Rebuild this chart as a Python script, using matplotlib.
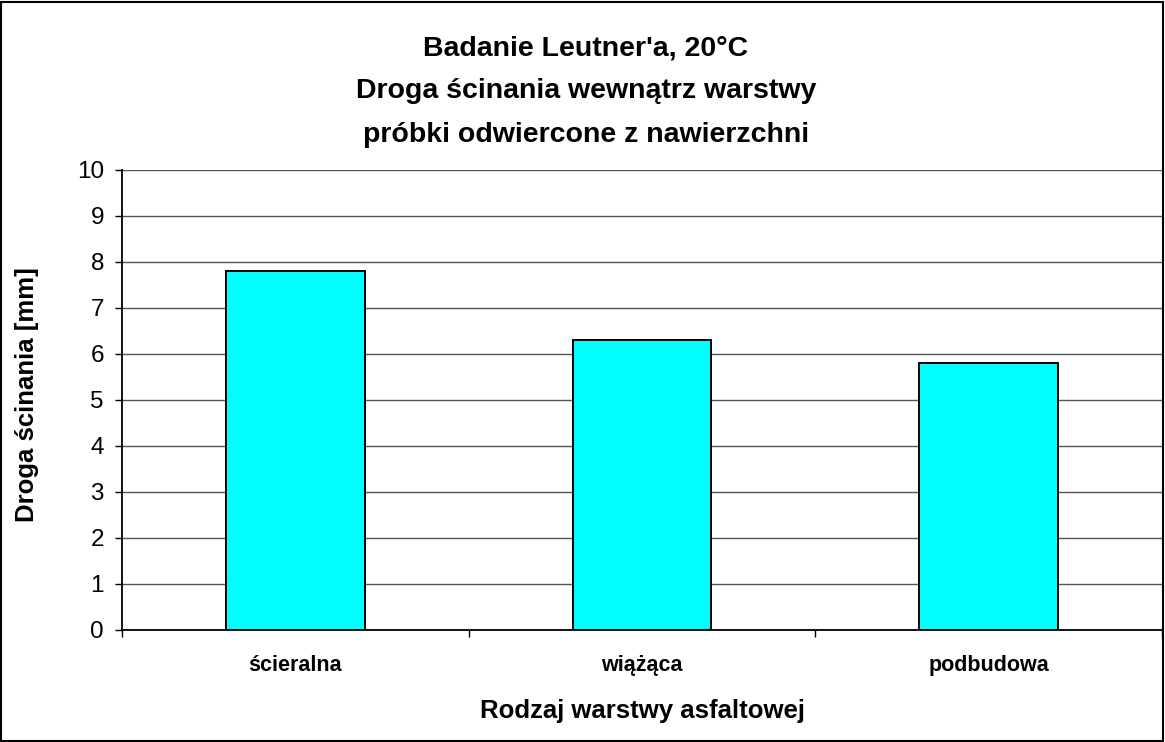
import matplotlib
matplotlib.use("Agg")
import matplotlib.pyplot as plt
from matplotlib.patches import Rectangle

plt.rcParams['font.family'] = ['Liberation Sans', 'DejaVu Sans']

categories = ["ścieralna", "wiążąca", "podbudowa"]
values = [7.8, 6.3, 5.8]
y_ticks = list(range(0, 11))

title_lines = ["Badanie Leutner'a, 20°C",
               "Droga ścinania wewnątrz warstwy",
               "próbki odwiercone z nawierzchni"]
x_label = "Rodzaj warstwy asfaltowej"
y_label = "Droga ścinania [mm]"

W, H = 1165, 742
fig = plt.figure(figsize=(W / 100, H / 100), dpi=100)
ax = fig.add_axes([122 / W, 1 - 630 / H, (1162 - 122) / W, (630 - 170) / H])

x = list(range(len(categories)))
ax.bar(x, values, width=0.40, color="#00FFFF", edgecolor="black",
       linewidth=1.4, zorder=3)

ax.set_xlim(-0.5, len(categories) - 0.5)
ax.set_ylim(0, 10)
ax.set_yticks(y_ticks)
ax.set_yticklabels([str(t) for t in y_ticks], fontsize=17.5)
ax.tick_params(axis="y", direction="out", length=5, width=1, pad=8)

ax.set_xticks(x)
ax.set_xticklabels(categories, fontsize=15.5, fontweight="bold")
ax.tick_params(axis="x", which="major", length=0, pad=18)
ax.set_xticks([i - 0.5 for i in range(len(categories) + 1)], minor=True)
ax.tick_params(axis="x", which="minor", direction="out", length=5, width=1)

ax.grid(axis="y", color="#555555", linewidth=1.0, zorder=0)
ax.set_axisbelow(True)
for side in ("top", "right"):
    ax.spines[side].set_visible(False)
for side in ("left", "bottom"):
    ax.spines[side].set_linewidth(1.3)
    ax.spines[side].set_zorder(4)

fig.text((122 + 1162) / 2 / W, 1 - 718 / H, x_label, ha="center",
         va="baseline", fontsize=18.5, fontweight="bold")
fig.text(27 / W, 1 - 395 / H, y_label, ha="center", va="center",
         rotation=90, fontsize=18.5, fontweight="bold")

for i, line in enumerate(title_lines):
    fig.text(586 / W, 1 - (55 + 43.5 * i) / H, line, ha="center",
             va="baseline", fontsize=20.5, fontweight="bold")

fig.patches.append(Rectangle((1 / W, 1 / H), (W - 3) / W, (H - 3) / H,
                             transform=fig.transFigure, fill=False,
                             edgecolor="black", linewidth=1.5))

fig.savefig("out.png", dpi=100)
